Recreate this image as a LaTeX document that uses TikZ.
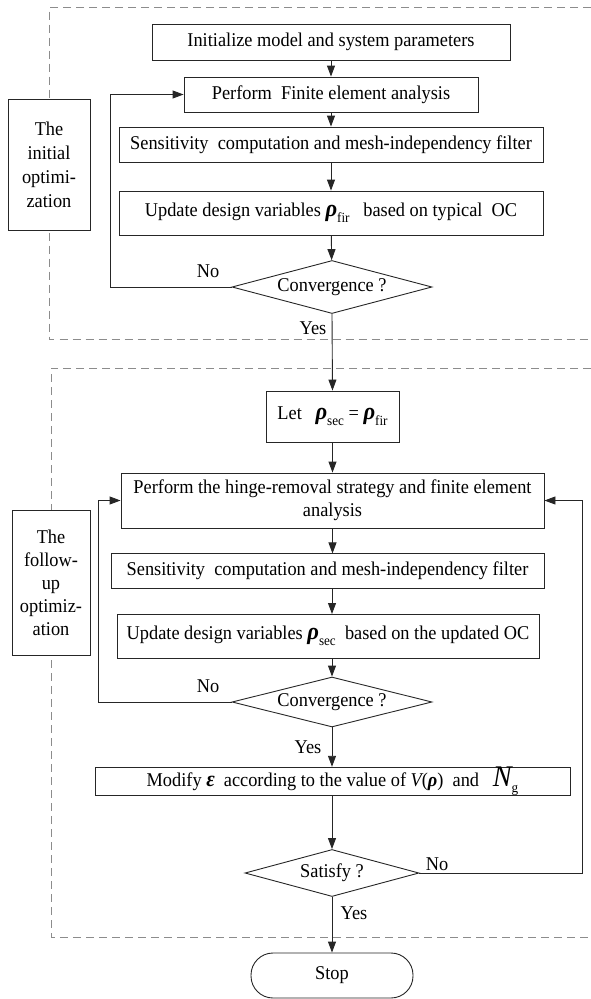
\documentclass[tikz,border=0pt]{standalone}
\usepackage{fontspec}
\setmainfont[FakeStretch=0.94]{Liberation Serif}
\usetikzlibrary{arrows.meta,shapes.geometric}
\newcommand{\rb}{{\bfseries\itshape ρ}}
\newcommand{\rbb}{{\fontsize{24}{24}\selectfont\bfseries\itshape ρ}}
\newcommand{\sbs}[1]{\raisebox{-0.3em}{\fontsize{14}{14}\selectfont #1}}
\newcommand{\fs}{\fontsize{19.5}{24}\selectfont}
\begin{document}
\begin{tikzpicture}[x=1pt,y=-1pt,
  box/.style={draw=black!85, line width=0.9pt, fill=white, inner sep=0pt, font=\fs, align=center},
  dia/.style={draw=black!85, line width=0.9pt, diamond, inner sep=0pt},
  lab/.style={font=\fs, inner sep=0pt},
  dashbox/.style={draw=black!45, line width=0.9pt, dash pattern=on 8pt off 5pt},
  flow/.style={draw=black!85, line width=0.9pt, -{Triangle[length=11pt,width=8pt]}}]
\useasboundingbox (0,0) rectangle (591,999);
% dashed groups
\draw[dashbox] (591,7.5) -- (49,7.5) -- (49,339) -- (591,339);
\draw[dashbox] (591,368) -- (51,368) -- (51,937) -- (591,937);
% group labels
\node[box, minimum width=82pt, minimum height=131pt, font=\fontsize{19.5}{24}\selectfont] (g1) at (49,164.5) {The\\initial\\optimi-\\zation};
\node[box, minimum width=78pt, minimum height=145pt, font=\fontsize{19.5}{23}\selectfont] (g2) at (51,582.5) {The\\follow-\\up\\optimiz-\\ation};
% first stage
\node[box, minimum width=358pt, minimum height=36pt] (init) at (331,42) {Initialize model and system parameters};
\node[box, minimum width=294pt, minimum height=35pt] (fe) at (331,94.5) {Perform\ \ Finite element analysis};
\node[box, minimum width=424pt, minimum height=35pt] (s1) at (331,144.5) {Sensitivity\ \ computation and mesh-independency filter};
\node[box, minimum width=424pt, minimum height=44pt] (u1) at (331,213) {Update design variables \rbb\sbs{fir}\ \ \ based on typical\ \ OC};
\node[dia, minimum width=200pt, minimum height=53pt, label={[lab]center:Convergence ?}] (c1) at (332,287) {};
% second stage
\node[box, minimum width=133pt, minimum height=51pt] (let) at (332.5,416.5) {Let\ \ \ \rbb\sbs{sec} = \rbb\sbs{fir}};
\node[box, minimum width=423pt, minimum height=55pt, font=\fontsize{19.5}{23}\selectfont] (hr) at (332.5,500.5) {Perform the hinge-removal strategy and finite element\\analysis};
\node[box, minimum width=433pt, minimum height=35pt] (s2) at (327.5,570.5) {Sensitivity\ \ computation and mesh-independency filter};
\node[box, minimum width=422pt, minimum height=44pt] (u2) at (328,636) {Update design variables \rbb\sbs{sec}\ \ based on the updated OC};
\node[dia, minimum width=200pt, minimum height=50pt, label={[lab]center:Convergence ?}] (c2) at (332,702) {};
\node[box, minimum width=475pt, minimum height=27pt, font=\fontsize{19.5}{20}\selectfont] (mod) at (332.5,781.5) {Modify {\fontsize{22}{22}\selectfont\itshape\bfseries ε}\ \ according to the value of {\itshape V}(\rb)\ \ and\ \ \ {\fontsize{30}{30}\selectfont\itshape N}\sbs{g}};
\node[dia, minimum width=174pt, minimum height=47pt, label={[lab]center:Satisfy ?}] (sat) at (332,873) {};
\node[box, minimum width=162pt, minimum height=45pt, rounded corners=22pt] (stop) at (332,975.5) {Stop};
% connectors
\draw[flow] (init) -- (fe);
\draw[flow] (fe) -- (s1);
\draw[flow] (s1) -- (u1);
\draw[flow] (u1) -- (c1);
\draw[flow] (c1.west) -- (110,287) |- (fe.west);
\node[lab] (no1) at (208,271) {No};
\draw[flow] (c1.south) -- (let.north);
\node[lab] (yes1) at (313,328) {Yes};
\draw[flow] (let) -- (let |- hr.north);
\draw[flow] (hr.south -| s2.north) ++(5,0) -- ++(0,25);
\draw[flow] (332,588) -- (332,614);
\draw[flow] (332,658) -- (c2.north);
\draw[flow] (c2.west) -- (98,702) |- (hr.west);
\node[lab] (no2) at (208,686) {No};
\draw[flow] (c2.south) -- (c2.south |- mod.north);
\node[lab] (yes2) at (308,747) {Yes};
\draw[flow] (c2.south |- mod.south) -- (sat.north);
\draw[flow] (sat.east) -- (582,873) |- (hr.east);
\node[lab] (no3) at (437,864) {No};
\draw[flow] (sat.south) -- (stop.north);
\node[lab] (yes3) at (354,913) {Yes};
\end{tikzpicture}
\end{document}
